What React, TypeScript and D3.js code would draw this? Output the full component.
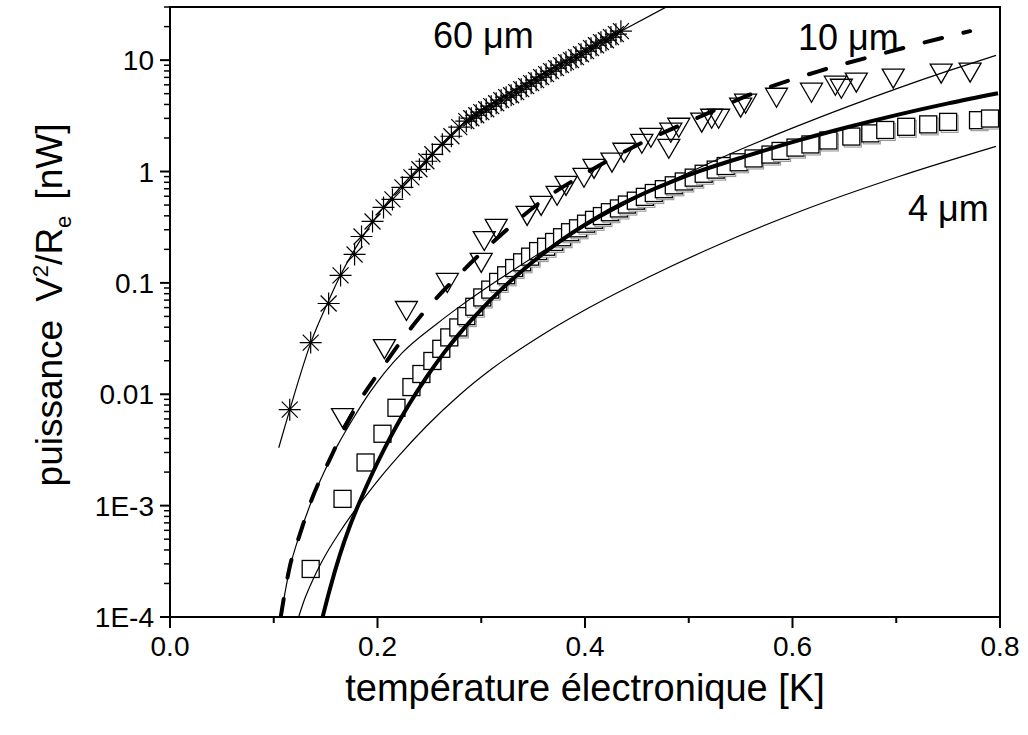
import React from "react";
import * as d3 from "d3";

// ---- data (temperature K, power nW) ----
const ast60T = [0.1154,0.1356,0.1529,0.1644,0.1779,0.1846,0.1952,0.2058,0.2144,0.2240,0.2327,0.2404,0.2471,0.2529,0.2625,0.2712,0.2788,0.2856,0.2904,0.2952,0.3000,0.3048,0.3096,0.3144,0.3192,0.3240,0.3288,0.3337,0.3385,0.3433,0.3481,0.3529,0.3577,0.3625,0.3673,0.3721,0.3769,0.3817,0.3865,0.3913,0.3962,0.4010,0.4058,0.4106,0.4154,0.4202,0.4250,0.4298,0.4346];
const ast60P = [0.00727,0.0291,0.0653,0.1167,0.180,0.261,0.356,0.476,0.562,0.721,0.887,1.047,1.236,1.428,1.756,2.073,2.50,2.83,3.01,3.20,3.41,3.62,3.86,4.10,4.37,4.65,4.84,5.16,5.49,5.84,6.21,6.61,7.03,7.48,7.96,8.47,9.02,9.59,10.0,10.64,11.3,12.05,12.8,13.6,14.5,15.1,16.1,17.1,18.2];

const tri10T = [0.1663,0.2067,0.2279,0.2673,0.3000,0.3029,0.3144,0.3442,0.3577,0.3731,0.3817,0.3990,0.4087,0.4260,0.4375,0.4548,0.4635,0.4808,0.4827,0.4904,0.5125,0.5221,0.5288,0.5500,0.5548,0.5846,0.6183,0.6413,0.6471,0.6615,0.6971,0.7433,0.7712];
const tri10P = [0.00629,0.0262,0.0577,0.103,0.156,0.245,0.315,0.412,0.507,0.624,0.767,0.906,1.09,1.24,1.52,1.83,2.07,1.65,2.30,2.55,2.83,3.07,3.07,3.86,4.19,4.74,5.26,6.08,5.71,6.47,7.03,7.80,7.96];

const sq4T = [0.1356,0.1663,0.1885,0.2048,0.2183,0.2327,0.2423,0.2529,0.2615,0.2692,0.2779,0.2856,0.2933,0.3010,0.3087,0.3163,0.3240,0.3317,0.3394,0.3471,0.3548,0.3625,0.3702,0.3779,0.3856,0.3933,0.4010,0.4087,0.4163,0.4240,0.4327,0.4404,0.4490,0.4577,0.4663,0.4760,0.4856,0.4952,0.5048,0.5144,0.5260,0.5356,0.5481,0.5625,0.5788,0.5885,0.6029,0.6173,0.6346,0.6567,0.6750,0.6894,0.7096,0.7308,0.7500,0.7788,0.7904];
const sq4P = [0.00027,0.00115,0.00244,0.00442,0.00756,0.0116,0.0152,0.0199,0.0256,0.0324,0.0398,0.0503,0.0610,0.0740,0.0870,0.1020,0.117,0.136,0.153,0.172,0.193,0.211,0.233,0.257,0.285,0.309,0.340,0.368,0.398,0.431,0.466,0.505,0.547,0.592,0.641,0.694,0.752,0.814,0.881,0.955,1.04,1.12,1.21,1.31,1.42,1.53,1.64,1.75,1.90,2.06,2.20,2.36,2.52,2.65,2.79,2.89,2.99];

const fit60T = [0.1048,0.1154,0.1356,0.1529,0.1644,0.1846,0.2058,0.2240,0.2404,0.2788,0.3240,0.3577,0.3913,0.4346,0.4788];
const fit60P = [0.00331,0.00724,0.0288,0.0692,0.1175,0.251,0.479,0.759,1.096,2.51,4.90,7.41,10.96,18.2,30.2];

const fit10T = [0.1067,0.1154,0.1250,0.1365,0.1490,0.1615,0.1779,0.1923,0.2067,0.2240,0.2567,0.2808,0.3173,0.3558,0.3942,0.4327,0.4712,0.5096,0.5577,0.6058,0.6538,0.7019,0.7500,0.7962];
const fit10P = [0.0001,0.000272,0.000552,0.001099,0.002042,0.003475,0.00635,0.01028,0.01556,0.02366,0.04256,0.06281,0.1076,0.1832,0.3006,0.4764,0.7295,1.0765,1.694,2.582,3.846,5.610,7.998,11.02];

const fit4T = [0.1240,0.1298,0.1375,0.1442,0.1510,0.1635,0.1760,0.1856,0.2019,0.2212,0.2471,0.2788,0.3106,0.3587,0.4038,0.4615,0.5288,0.6058,0.7019,0.7962];
const fit4P = [0.0001,0.000145,0.000214,0.000287,0.000375,0.000577,0.000851,0.00112,0.00175,0.00284,0.00516,0.0098,0.0170,0.0341,0.0598,0.113,0.220,0.433,0.897,1.68];

const thickT = [0.1471,0.1538,0.1635,0.1731,0.1827,0.1952,0.2067,0.2183,0.2308,0.2471,0.2644,0.2788,0.3010,0.3173,0.3394,0.3635,0.3875,0.4135,0.4356,0.4615,0.4837,0.5096,0.5577,0.6058,0.6538,0.7019,0.7500,0.7981];
const thickP = [0.0001,0.0001742,0.0003556,0.0006457,0.001074,0.001963,0.00325,0.00519,0.00822,0.01416,0.02377,0.03483,0.0590,0.0838,0.1285,0.195,0.2805,0.397,0.512,0.665,0.813,1.002,1.396,1.905,2.512,3.243,4.093,5.047];

const dashT = [0.1067,0.1154,0.1250,0.1365,0.1538,0.1779,0.2067,0.2404,0.2788,0.3173,0.3606,0.4038,0.4519,0.5096,0.5673,0.6250,0.6827,0.7404,0.7712];
const dashP = [0.0001,0.000282,0.000546,0.00113,0.00258,0.00728,0.0185,0.0489,0.119,0.261,0.562,1.0,1.76,3.07,5.26,7.94,11.2,15.5,18.2];

const xTicksMajor = [0, 0.2, 0.4, 0.6, 0.8];
const xTicksMinor = [0.1, 0.3, 0.5, 0.7];
const yTickValues = [1e-4, 1e-3, 0.01, 0.1, 1, 10];
const yTickLabels = ["1E-4", "1E-3", "0.01", "0.1", "1", "10"];

const W = 1028, H = 735;
const L = 170, R = 1000, T = 7, B = 617;
const FONT = "'Liberation Sans', Arial, Helvetica, sans-serif";

export default function App() {
  const x = d3.scaleLinear().domain([0, 0.8]).range([L, R]);
  const y = d3.scaleLog().domain([1e-4, 30]).range([B, T]);

  const zip = (a: number[], b: number[]) => a.map((v, i) => [v, b[i]] as [number, number]);
  const line = d3
    .line<[number, number]>()
    .x((d) => x(d[0]))
    .y((d) => y(d[1]))
    .curve(d3.curveMonotoneX);

  const yMinor: number[] = [];
  for (let e = -4; e <= 1; e++) {
    for (let m = 2; m <= 9; m++) {
      const v = m * Math.pow(10, e);
      if (v <= 30) yMinor.push(v);
    }
  }

  const squares = zip(sq4T, sq4P);
  const tris = zip(tri10T, tri10P);
  const asts = zip(ast60T, ast60P);

  return (
    <svg
      width={W}
      height={H}
      style={{ position: "absolute", left: 0, top: 0, background: "#fff" }}
      fontFamily={FONT}
    >
      <defs>
        <clipPath id="plotclip">
          <rect x={L} y={T} width={R - L} height={B - T} />
        </clipPath>
      </defs>
      <rect x={0} y={0} width={W} height={H} fill="#fff" />

      <g clipPath="url(#plotclip)">
        {/* squares (white-filled, light shadow where dense) */}
        {squares.map((d, i) => {
          const cx = x(d[0]), cy = y(d[1]);
          return (
            <g key={"s" + i}>
              {d[0] > 0.27 && (
                <rect x={cx - 7} y={cy - 6.5} width={17} height={17} fill="#fff" stroke="#999" strokeWidth={1.1} />
              )}
              <rect x={cx - 8.5} y={cy - 8.5} width={17} height={17} fill="#fff" stroke="#000" strokeWidth={1.3} />
            </g>
          );
        })}
        {/* model curves */}
        <path d={line(zip(fit60T, fit60P)) || ""} fill="none" stroke="#000" strokeWidth={1.2} />
        <path d={line(zip(fit10T, fit10P)) || ""} fill="none" stroke="#000" strokeWidth={1.2} />
        <path d={line(zip(fit4T, fit4P)) || ""} fill="none" stroke="#000" strokeWidth={1.2} />
        <path d={line(zip(thickT, thickP)) || ""} fill="none" stroke="#000" strokeWidth={4} />
        <path
          d={line(zip(dashT, dashP)) || ""}
          fill="none"
          stroke="#000"
          strokeWidth={4}
          strokeDasharray="18 22"
          strokeLinecap="round"
        />
        {/* triangles */}
        {tris.map((d, i) => {
          const cx = x(d[0]), cy = y(d[1]);
          return (
            <path
              key={"t" + i}
              d={`M${cx - 11},${cy - 8}L${cx + 11},${cy - 8}L${cx},${cy + 11}Z`}
              fill="none"
              stroke="#000"
              strokeWidth={1.3}
            />
          );
        })}
        {/* asterisks */}
        {asts.map((d, i) => {
          const cx = x(d[0]), cy = y(d[1]);
          const a = 11, b = 8;
          return (
            <path
              key={"a" + i}
              d={`M${cx - a},${cy}L${cx + a},${cy}M${cx},${cy - a}L${cx},${cy + a}M${cx - b},${cy - b}L${cx + b},${cy + b}M${cx - b},${cy + b}L${cx + b},${cy - b}`}
              fill="none"
              stroke="#000"
              strokeWidth={1.2}
            />
          );
        })}
      </g>

      {/* frame */}
      <rect x={L} y={T} width={R - L} height={B - T} fill="none" stroke="#000" strokeWidth={2} />

      {/* x ticks */}
      {xTicksMajor.map((v) => (
        <g key={"xm" + v}>
          <line x1={x(v)} x2={x(v)} y1={B} y2={B + 11} stroke="#000" strokeWidth={2} />
          <text x={x(v)} y={B + 39} fontSize={28} textAnchor="middle">
            {v.toFixed(1)}
          </text>
        </g>
      ))}
      {xTicksMinor.map((v) => (
        <line key={"xn" + v} x1={x(v)} x2={x(v)} y1={B} y2={B + 6} stroke="#000" strokeWidth={2} />
      ))}

      {/* y ticks */}
      {yTickValues.map((v, i) => (
        <g key={"ym" + v}>
          <line x1={L - 10} x2={L} y1={y(v)} y2={y(v)} stroke="#000" strokeWidth={2} />
          <text x={L - 16} y={y(v) + 10} fontSize={28} textAnchor="end">
            {yTickLabels[i]}
          </text>
        </g>
      ))}
      {yMinor.map((v) => (
        <line key={"yn" + v} x1={L - 6} x2={L} y1={y(v)} y2={y(v)} stroke="#000" strokeWidth={1.5} />
      ))}

      {/* axis titles */}
      <text x={585} y={701} fontSize={38} textAnchor="middle">
        température électronique [K]
      </text>
      <text transform="translate(62,305) rotate(-90)" fontSize={37} textAnchor="middle">
        puissance
        <tspan dx={18}>V</tspan>
        <tspan dy={-14} fontSize={22}>2</tspan>
        <tspan dy={14}>/R</tspan>
        <tspan dy={9} fontSize={22}>e</tspan>
        <tspan dy={-9} dx={16}>[nW]</tspan>
      </text>

      {/* annotations */}
      <text x={433} y={48} fontSize={36}>60 μm</text>
      <text x={798} y={50} fontSize={36}>10 μm</text>
      <text x={908} y={221} fontSize={36}>4 μm</text>
    </svg>
  );
}
